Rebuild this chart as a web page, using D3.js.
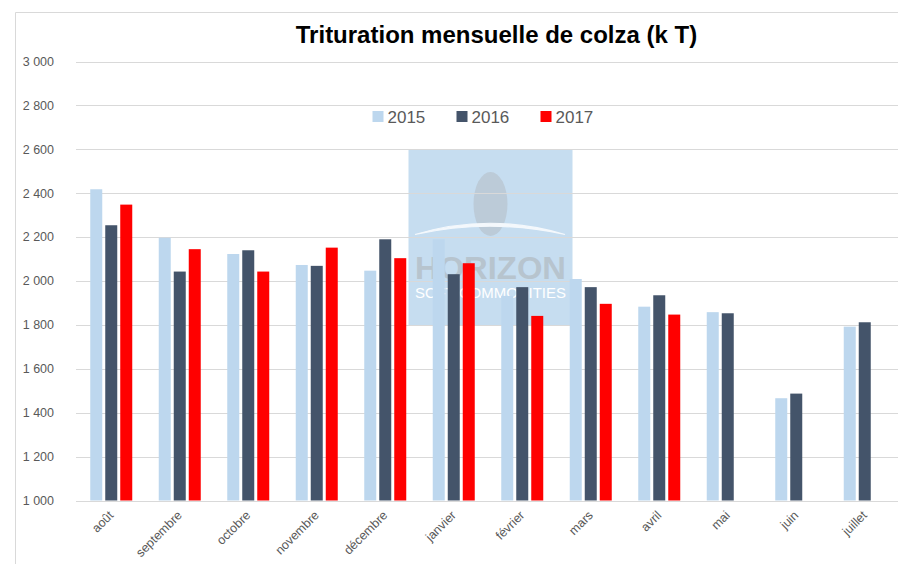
<!DOCTYPE html>
<html>
<head>
<meta charset="utf-8">
<script src="https://cdn.jsdelivr.net/npm/d3@7"></script>
<style>
  html, body { margin: 0; padding: 0; background: #fff; }
  svg { display: block; }
</style>
</head>
<body>
<div id="wrapper"></div>
<script>
// Data (k T)
const months = ["août", "septembre", "octobre", "novembre", "décembre", "janvier",
                "février", "mars", "avril", "mai", "juin", "juillet"]
const years = ["2015", "2016", "2017"]
const v2015 = [2418, 2197, 2123, 2073, 2047, 2190, 1932, 2009, 1883, 1858, 1466, 1792]
const v2016 = [2254, 2043, 2140, 2069, 2190, 2031, 1972, 1972, 1935, 1853, 1487, 1812]
const v2017 = [2348, 2145, 2043, 2152, 2104, 2081, 1841, 1896, 1847, null, null, null]
const yTicks = [1000, 1200, 1400, 1600, 1800, 2000, 2200, 2400, 2600, 2800, 3000]
const colors = ["#bdd7ee", "#44546a", "#ff0000"]

const series = [v2015, v2016, v2017]

function drawBars() {
    const width = 898
    const height = 564

    const svg = d3.select("#wrapper")
        .append("svg")
            .attr("width", width)
            .attr("height", height)

    // chart frame (only top and left visible in the crop)
    svg.append("path")
        .attr("d", `M15.5,${height} V12.5 H${width}`)
        .attr("fill", "none")
        .attr("stroke", "#d9d9d9")

    // scales
    const xScale = d3.scaleBand()
        .domain(months)
        .range([77, 899])

    const xInner = d3.scaleBand()
        .domain(years)
        .range([13.25, 55.25])
        .paddingInner(0.2)

    const yScale = d3.scaleLinear()
        .domain([1000, 3000])
        .range([500.5, 61.5])

    const fr = d3.formatLocale({ decimal: ",", thousands: " ", grouping: [3], currency: ["", " €"] })
    const fmt = fr.format(",")

    // watermark logo (behind bars)
    const logo = svg.append("g")
    logo.append("rect")
        .attr("x", 408.5).attr("y", 150)
        .attr("width", 164).attr("height", 175)
        .attr("fill", "#c6ddf0")
    logo.append("ellipse")
        .attr("cx", 490.5).attr("cy", 204)
        .attr("rx", 17).attr("ry", 32)
        .attr("fill", "#bccbd8")
    logo.append("path")
        .attr("d", "M415,234.5 Q490,212 565,234.5 Q490,218 415,234.5 Z")
        .attr("fill", "#f4f8fc")
        .attr("stroke", "#f4f8fc")
        .attr("stroke-width", 1.2)
    logo.append("text")
        .attr("x", 490.5).attr("y", 278.5)
        .attr("text-anchor", "middle")
        .attr("font-family", "Liberation Sans, Arial, sans-serif")
        .attr("font-weight", "bold")
        .attr("font-size", 32)
        .attr("textLength", 151)
        .attr("lengthAdjust", "spacingAndGlyphs")
        .attr("fill", "#b7c4ce")
        .text("HORIZON")
    logo.append("text")
        .attr("x", 490.5).attr("y", 298)
        .attr("text-anchor", "middle")
        .attr("font-family", "Liberation Sans, Arial, sans-serif")
        .attr("font-size", 15)
        .attr("textLength", 151)
        .attr("lengthAdjust", "spacingAndGlyphs")
        .attr("fill", "#ffffff")
        .text("SOFT COMMODITIES")

    // gridlines
    svg.append("g")
        .selectAll("line")
        .data(yTicks)
        .join("line")
            .attr("x1", 76)
            .attr("x2", width)
            .attr("y1", d => Math.round(yScale(d)) + 0.5)
            .attr("y2", d => Math.round(yScale(d)) + 0.5)
            .attr("stroke", "#d9d9d9")
            .attr("stroke-width", 1)

    // y labels
    svg.append("g")
        .selectAll("text")
        .data(yTicks)
        .join("text")
            .attr("x", 54)
            .attr("y", d => yScale(d))
            .attr("dy", "0.35em")
            .attr("text-anchor", "end")
            .attr("font-family", "Liberation Sans, Arial, sans-serif")
            .attr("font-size", 12.5)
            .attr("fill", "#595959")
            .text(d => fmt(d))

    // bars
    const groups = svg.append("g")
        .selectAll("g")
        .data(months)
        .join("g")
            .attr("transform", d => `translate(${xScale(d)},0)`)

    groups.selectAll("rect")
        .data((m, i) => years.map((yr, j) => ({ year: yr, value: series[j][i], j })))
        .join("rect")
            .filter(d => d.value != null)
            .attr("x", d => xInner(d.year))
            .attr("y", d => yScale(d.value))
            .attr("width", xInner.bandwidth())
            .attr("height", d => yScale(1000) - yScale(d.value))
            .attr("fill", d => colors[d.j])

    // x labels
    svg.append("g")
        .selectAll("text")
        .data(months)
        .join("text")
            .attr("transform", d => `translate(${xScale(d) + xScale.bandwidth() / 2 + 3},${516}) rotate(-45)`)
            .attr("text-anchor", "end")
            .attr("font-family", "Liberation Sans, Arial, sans-serif")
            .attr("font-size", 12.5)
            .attr("fill", "#595959")
            .text(d => d)

    // legend
    const legend = svg.append("g")
        .selectAll("g")
        .data(years)
        .join("g")
            .attr("transform", (d, i) => `translate(${372.5 + i * 84},0)`)
    legend.append("rect")
        .attr("x", 0).attr("y", 111)
        .attr("width", 11).attr("height", 11)
        .attr("fill", (d, i) => colors[i])
    legend.append("text")
        .attr("x", 15)
        .attr("y", 122.5)
        .attr("font-family", "Liberation Sans, Arial, sans-serif")
        .attr("font-size", 17)
        .attr("fill", "#595959")
        .text(d => d)

    // title
    svg.append("text")
        .attr("x", 496.5)
        .attr("y", 43)
        .attr("text-anchor", "middle")
        .attr("font-family", "Liberation Sans, Arial, sans-serif")
        .attr("font-weight", "bold")
        .attr("font-size", 24)
        .attr("fill", "#000")
        .text("Trituration mensuelle de colza (k T)")
}

drawBars()
</script>
</body>
</html>
